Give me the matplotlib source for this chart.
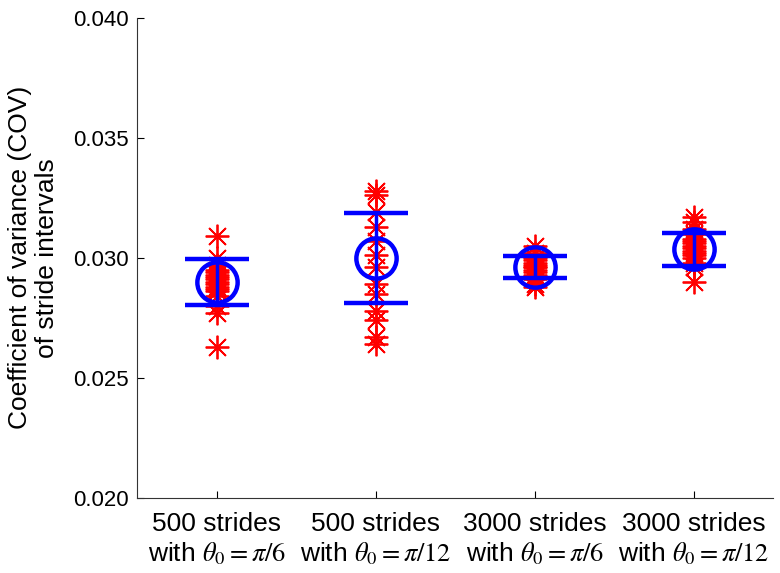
import matplotlib
matplotlib.use("Agg")
import matplotlib.pyplot as plt
import numpy as np

plt.rcParams['font.family'] = ['Liberation Sans', 'DejaVu Sans']
plt.rcParams['mathtext.fontset'] = 'stix'

# data
groups = ["500 strides\nwith $\\theta_0 = \\pi/6$", "500 strides\nwith $\\theta_0 = \\pi/12$",
          "3000 strides\nwith $\\theta_0 = \\pi/6$", "3000 strides\nwith $\\theta_0 = \\pi/12$"]
g1 = [0.0309, 0.0300, 0.0297, 0.0295, 0.0294, 0.0293, 0.0292, 0.0291, 0.0290,
      0.0289, 0.0288, 0.0287, 0.0286, 0.0284, 0.0280, 0.0277, 0.0263]
g2 = [0.0328, 0.0326, 0.0319, 0.0313, 0.0307, 0.0301, 0.0296, 0.0289, 0.0285,
      0.0278, 0.0274, 0.0267, 0.0264]
g3 = [0.0305, 0.0302, 0.0300, 0.0299, 0.0298, 0.0297, 0.0296, 0.0296, 0.0295,
      0.0294, 0.0293, 0.0292, 0.0291, 0.0289, 0.0288]
g4 = [0.0317, 0.0315, 0.0312, 0.0310, 0.0308, 0.0307, 0.0306, 0.0305, 0.0304,
      0.0303, 0.0302, 0.0301, 0.0300, 0.0298, 0.0296, 0.0290]
samples = [g1, g2, g3, g4]
means = [0.0290, 0.0300, 0.02962, 0.03035]
errs = [0.00095, 0.00188, 0.00044, 0.00069]

fig = plt.figure(figsize=(7.8, 5.73), dpi=100)
ax = fig.add_axes([0.176, 0.131, 0.815, 0.838])

pos = np.arange(1, len(groups) + 1)
for p, vals in zip(pos, samples):
    ax.plot([p] * len(vals), vals, linestyle='none', marker=(8, 2, 0),
            markersize=17, markeredgewidth=1.3, color='red', zorder=2)

ax.errorbar(pos, means, yerr=errs, fmt='o', color='blue', markerfacecolor='none',
            markersize=29, markeredgewidth=3.2, elinewidth=2.5, capsize=23,
            capthick=3.5, zorder=3)

ax.set_xlim(0.5, 4.5)
ax.set_ylim(0.020, 0.040)
ax.set_yticks([0.020, 0.025, 0.030, 0.035, 0.040])
ax.set_yticklabels(["0.020", "0.025", "0.030", "0.035", "0.040"])
ax.set_xticks(pos)
ax.set_xticklabels(groups)
ax.tick_params(direction='in', length=5, width=0.8, colors='black')
ax.tick_params(axis='x', pad=10, labelsize=19)
ax.tick_params(axis='y', pad=6, labelsize=16)
ax.set_ylabel("Coefficient of variance (COV)\nof stride intervals", fontsize=19, labelpad=10)

for s in ['top', 'right']:
    ax.spines[s].set_visible(False)
for s in ['left', 'bottom']:
    ax.spines[s].set_linewidth(0.8)
    ax.spines[s].set_color('#333333')

fig.savefig("out.png", dpi=100)
